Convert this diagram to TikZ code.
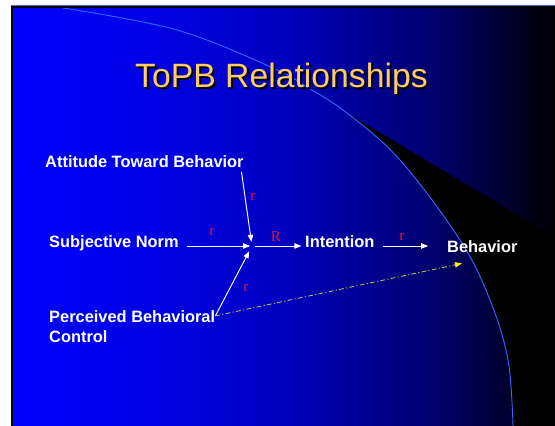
\documentclass[tikz,border=0pt]{standalone}
\usepackage{fontspec}
\setmainfont{Liberation Sans}
\newfontfamily\rfont{Liberation Serif}
\usetikzlibrary{arrows.meta}
\definecolor{titleyellow}{RGB}{255,204,102}
\definecolor{arcblue}{RGB}{51,102,255}
\definecolor{rred}{RGB}{225,20,60}
\definecolor{dashyellow}{RGB}{200,200,60}
\pgfdeclarehorizontalshading{slidebg}{100bp}{rgb(0bp)=(0,0,1); rgb(25bp)=(0,0,1); rgb(38bp)=(0,0,0.9); rgb(50bp)=(0,0,0.75); rgb(64bp)=(0,0,0.42); rgb(70bp)=(0,0,0.2); rgb(75bp)=(0,0,0); rgb(100bp)=(0,0,0)}
\newcommand{\arcpts}{(63,8) (177,30) (273,68) (307,87) (347,113) (400,160) (460,240) (490,300) (508,360) (513,426)}
\begin{document}
\begin{tikzpicture}[x=0.03cm,y=-0.03cm,
  lbl/.style={text=white,font=\fontsize{14}{17}\selectfont\bfseries,inner sep=0pt},
  rlab/.style={text=rred,font=\rfont\fontsize{13}{15}\selectfont,inner sep=0pt},
  wire/.style={white,line width=0.8pt,-{Triangle[length=6pt,width=4.5pt]}}]
 \useasboundingbox (0,0) rectangle (555,426);
 \fill[white] (0,0) rectangle (555,426);
 % slide background
 \shade[shading=slidebg] (11,6) rectangle (556,427);
 \begin{scope}
  \clip plot[smooth,tension=0.6] coordinates {\arcpts} -- (560,430) -- (560,0) -- cycle;
  \fill[black] (347,113) -- (556,237.6) -- (556,427) -- (340,427) -- cycle;
 \end{scope}
 \draw[arcblue,line width=0.8pt] plot[smooth,tension=0.6] coordinates {\arcpts};
 \draw[black,line width=1.8pt] (12,427) -- (12,7) -- (556,7);
 \draw[arcblue!60!gray,line width=0.6pt] (11,5.5) -- (556,5.5);
 % title
 \node[text=black,font=\fontsize{28.8}{32}\selectfont,anchor=base] (ttlshadow) at (283.5,90) {ToPB Relationships};
 \node[text=titleyellow,font=\fontsize{28.8}{32}\selectfont,anchor=base] (ttl) at (281.5,88) {ToPB Relationships};
 % concepts
 \node[lbl,anchor=base west] (att) at (45,168) {Attitude Toward Behavior};
 \node[lbl,anchor=base west] (sn) at (49,248) {Subjective Norm};
 \node[lbl,anchor=north west,align=left] (pbc) at (49,310) {Perceived Behavioral\\Control};
 \node[lbl,anchor=base west] (int) at (305,248) {Intention};
 \node[lbl,anchor=base west] (beh) at (447,252) {Behavior};
 \coordinate (j) at (252,246);
 \coordinate (pbcend) at ([yshift=-5pt]pbc.north east);
 \coordinate (behin) at ([shift={(15,11)}]beh.south west);
 % paths
 \draw[wire,shorten >=3.5pt] ([shift={(-2pt,-3pt)}]att.south east) -- (j);
 \draw[wire,shorten >=1.5pt] ([xshift=7pt]sn.east |- j) -- (j);
 \draw[wire,shorten >=5pt] (pbcend) -- (j);
 \draw[wire,shorten <=2.5pt] (j) -- ([xshift=-3pt]int.west |- j);
 \draw[wire] ([xshift=7pt]int.east |- j) -- ([xshift=-16pt]beh.west |- j);
 \draw[dashyellow,line width=0.7pt,dash pattern=on 4pt off 2pt on 1pt off 2pt,-{Triangle[length=6pt,width=4.5pt,color=yellow]}] (pbcend) -- (behin);
 % weights
 \node[rlab] (r1) at (253,197) {r};
 \node[rlab] (r2) at (212,232) {r};
 \node[rlab] (rR) at (276,237) {R};
 \node[rlab] (r3) at (246,288) {r};
 \node[rlab] (r4) at (402,237) {r};
\end{tikzpicture}
\end{document}
